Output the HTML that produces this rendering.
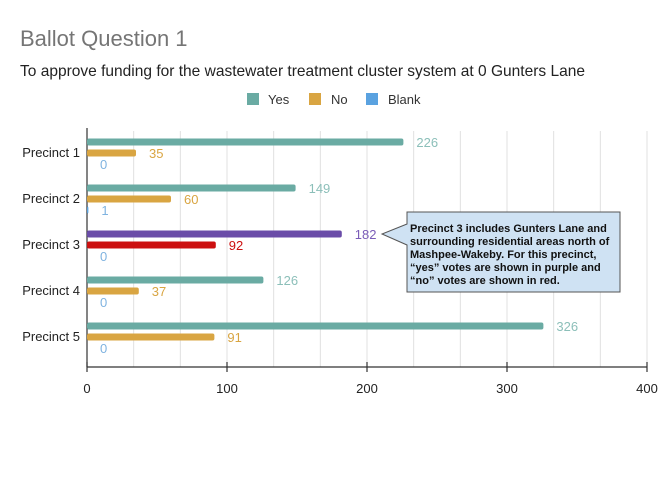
<!DOCTYPE html>
<html><head><meta charset="utf-8"><style>
body{margin:0;background:#fff;width:667px;height:500px;overflow:hidden;font-family:"Liberation Sans",Arial,sans-serif}
svg{display:block}
</style></head><body>
<svg width="667" height="500" viewBox="0 0 667 500" id="chart">
<text x="20" y="46" font-size="22" fill="#757575">Ballot Question 1</text>
<text x="20" y="76" font-size="16" fill="#222" textLength="565" lengthAdjust="spacingAndGlyphs">To approve funding for the wastewater treatment cluster system at 0 Gunters Lane</text>
<g>
<g><rect x="247" y="93" width="12" height="12" fill="#6aaba3"/><text x="268" y="104" font-size="13" fill="#333">Yes</text></g>
<g><rect x="309" y="93" width="12" height="12" fill="#d9a542"/><text x="331" y="104" font-size="13" fill="#333">No</text></g>
<g><rect x="366" y="93" width="12" height="12" fill="#5aa2e0"/><text x="388" y="104" font-size="13" fill="#333">Blank</text></g>
</g>
<g id="grid"></g>
<g id="bars"></g>
<g>
<path d="M407,212 L620,212 L620,292 L407,292 L407,245 L382,234 L407,224 Z" fill="#cfe2f3" stroke="#555" stroke-width="1"/>
<text font-size="11" font-weight="bold" fill="#111">
<tspan x="410" y="232">Precinct 3 includes Gunters Lane and</tspan>
<tspan x="410" y="245">surrounding residential areas north of</tspan>
<tspan x="410" y="258">Mashpee-Wakeby. For this precinct,</tspan>
<tspan x="410" y="271">“yes” votes are shown in purple and</tspan>
<tspan x="410" y="284">“no” votes are shown in red.</tspan>
</text>
</g>
</svg>
<script>
const categories=["Precinct 1","Precinct 2","Precinct 3","Precinct 4","Precinct 5"];
const yesValues=[226,149,182,126,326];
const noValues=[35,60,92,37,91];
const blankValues=[0,1,0,0,0];
const xTicks=[0,100,200,300,400];
const NS="http://www.w3.org/2000/svg";
const X0=87,X1=647,XMAX=400,TOP=131,AXY=367,BAND=46,FIRST=142;
function xs(v){return X0+(v/XMAX)*(X1-X0);}
function yc(i){return FIRST+i*BAND;}
function mk(tag,attrs,parent){const e=document.createElementNS(NS,tag);for(const k in attrs)e.setAttribute(k,attrs[k]);parent.appendChild(e);return e;}
const grid=document.getElementById('grid'),bars=document.getElementById('bars');
for(let k=1;k<=12;k++){const v=k*XMAX/12;
 const l=mk('line',{x1:xs(v),x2:xs(v),y1:TOP,y2:AXY,stroke:'#e0e0e0','stroke-width':1},grid);
 
 }
const ya=mk('line',{x1:X0,x2:X0,y1:TOP-3,y2:AXY,stroke:'#333','stroke-width':1.2},grid);


const xa=mk('line',{x1:X0,x2:X1,y1:AXY,y2:AXY,stroke:'#333','stroke-width':1.2},grid);


xTicks.forEach(v=>{
 const t=mk('line',{x1:xs(v),x2:xs(v),y1:AXY-5,y2:AXY+5,stroke:'#333','stroke-width':1.2},grid);
 
 
 const tx=mk('text',{x:xs(v),y:AXY+26,'font-size':13,fill:'#222','text-anchor':'middle'},grid);
 tx.textContent=v;
 
 
});
categories.forEach((c,i)=>{
 const y=yc(i);
 const lab=mk('text',{x:80,y:y+15,'font-size':13,fill:'#222','text-anchor':'end'},bars);
 lab.textContent=c;
 
 
 const p3=(i===2);
 const series=[[yesValues[i],p3?'#6a4ca8':'#6aaba3',p3?'#7a5cb8':'#8cbfb9',0,'yes'],[noValues[i],p3?'#cc1010':'#d9a542',p3?'#cc1010':'#d9a542',11,'no'],[blankValues[i],'#5aa2e0','#7fb3e0',22,'blank']];
 series.forEach(s=>{
  const [v,col,tc,dy,nm]=s;
  const by=y+dy;
  if(v>0){
   const r=mk('rect',{x:X0,y:by-3.5,width:xs(v)-X0,height:7,rx:2,fill:col},bars);
   
   
  }
  const t=mk('text',{x:xs(v)+13,y:by+5,'font-size':13,fill:tc},bars);
  t.textContent=v;
  
  
 });
});
</script>
</body></html>
